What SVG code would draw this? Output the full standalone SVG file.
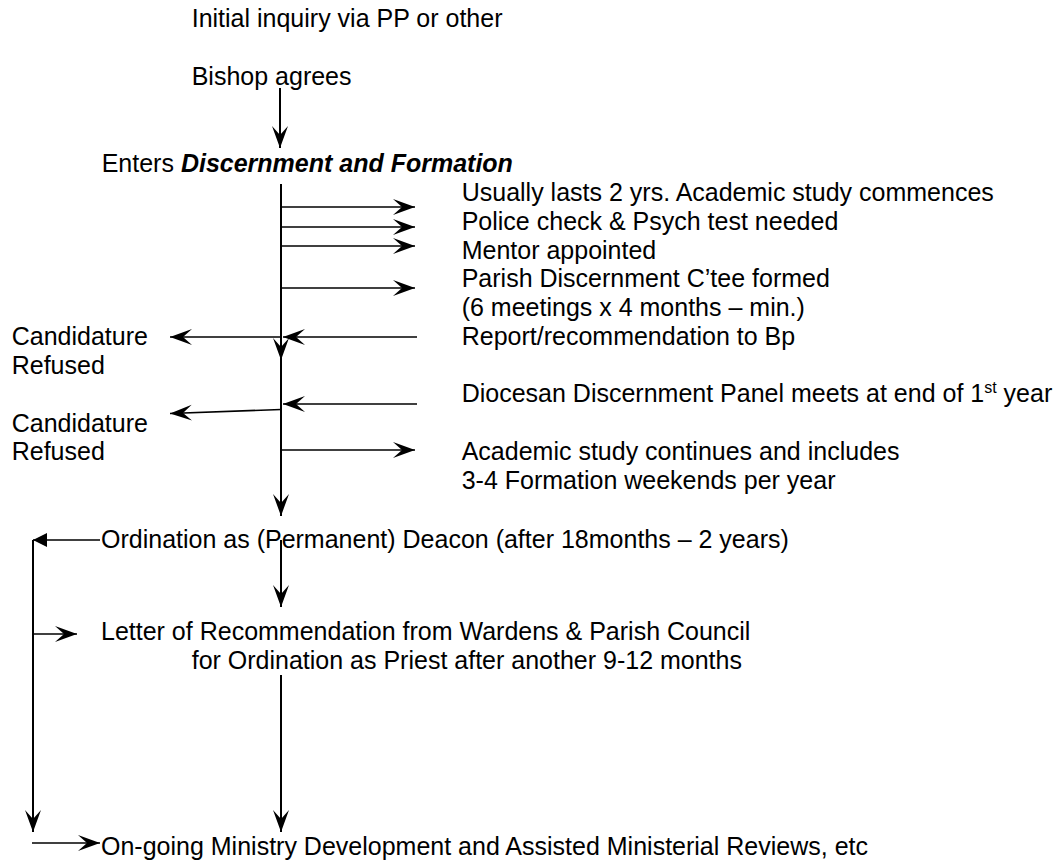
<svg xmlns="http://www.w3.org/2000/svg" width="1058" height="864" viewBox="0 0 1058 864">
<style>
text { font-family: "Liberation Sans", Arial, sans-serif; font-size: 25px; fill: #000; }
.bi { font-weight: bold; font-style: italic; }
.v { stroke: #000; stroke-width: 2; fill: none; }
.h { stroke: #000; stroke-width: 1.6; fill: none; }
.a { marker-end: url(#stealth); }
</style>
<defs>
<marker id="stealth" markerUnits="userSpaceOnUse" markerWidth="23" markerHeight="18" viewBox="0 0 23 18" refX="22" refY="9" orient="auto">
<path d="M0,1 L22,9 L0,17 L9,9 Z" fill="#000"/>
</marker>
<marker id="tri" markerUnits="userSpaceOnUse" markerWidth="15" markerHeight="16" viewBox="0 0 15 16" refX="14" refY="8" orient="auto">
<path d="M0,1 L14,8 L0,15 Z" fill="#000"/>
</marker>
</defs>
<rect width="1058" height="864" fill="#fff"/>

<g id="connectors">
<path class="v a" d="M280,88 L280,148"/>
<path class="v a" d="M281,184 L281,360"/>
<path class="v a" d="M281,360 L281,516"/>
<path class="h a" d="M281,207 L415,207"/>
<path class="h a" d="M281,227 L415,227"/>
<path class="h a" d="M281,246 L415,246"/>
<path class="h a" d="M281,288 L415,288"/>
<path class="h a" d="M417,337 L283,337"/>
<path class="h a" d="M281,337 L170,337"/>
<path class="h a" d="M417,404 L283,404"/>
<path class="h a" d="M281,409.5 L170,413.5"/>
<path class="h a" d="M281,450 L415,450"/>
<path class="v a" d="M281,540 L281,607"/>
<path class="v a" d="M281,675 L281,832"/>
<path class="h" d="M100,540 L33,540" marker-end="url(#tri)"/>
<path class="v a" d="M33,540 L33,832"/>
<path class="h a" d="M33,634 L77,634"/>
<path class="h a" d="M32,843 L100,843"/>
</g>

<g id="initial-inquiry"><text x="191.7" y="26.7">Initial inquiry via PP or other</text></g>
<g id="bishop-agrees"><text x="191.7" y="85">Bishop agrees</text></g>
<g id="discernment"><text x="101.7" y="171.7">Enters <tspan class="bi">Discernment and Formation</tspan></text></g>

<g id="usually"><text x="461.7" y="201">Usually lasts 2 yrs. Academic study commences</text></g>
<g id="police"><text x="461.7" y="229.75">Police check &amp; Psych test needed</text></g>
<g id="mentor"><text x="461.7" y="258.5">Mentor appointed</text></g>
<g id="parish-ctee"><text x="461.7" y="287.25">Parish Discernment C’tee formed</text><text x="461.7" y="316">(6 meetings x 4 months – min.)</text></g>
<g id="report"><text x="461.7" y="344.75">Report/recommendation to Bp</text></g>
<g id="refused-1"><text x="11.7" y="344.75">Candidature</text><text x="11.7" y="373.5">Refused</text></g>

<g id="diocesan-panel"><text x="461.7" y="402.3">Diocesan Discernment Panel meets at end of 1<tspan font-size="16" dy="-9">st</tspan><tspan dy="9"> year</tspan></text></g>
<g id="refused-2"><text x="11.7" y="431.7">Candidature</text><text x="11.7" y="460.4">Refused</text></g>
<g id="academic"><text x="461.7" y="460">Academic study continues and includes</text><text x="461.7" y="488.7">3-4 Formation weekends per year</text></g>

<g id="ordination-deacon"><text x="101" y="548.3">Ordination as (Permanent) Deacon (after 18months – 2 years)</text></g>
<g id="letter"><text x="101" y="640">Letter of Recommendation from Wardens &amp; Parish Council</text><text x="191.7" y="668.5">for Ordination as Priest after another 9-12 months</text></g>
<g id="ongoing"><text x="101" y="855">On-going Ministry Development and Assisted Ministerial Reviews, etc</text></g>
</svg>
